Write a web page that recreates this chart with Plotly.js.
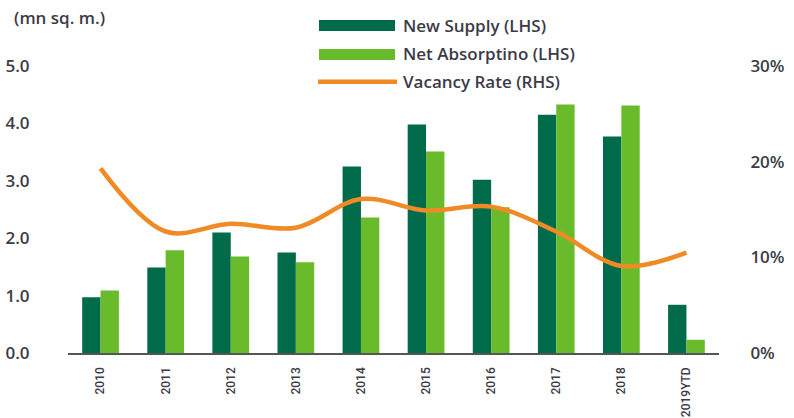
<!DOCTYPE html>
<html>
<head>
<meta charset="utf-8">
<script src="https://cdn.plot.ly/plotly-3.0.1.min.js"></script>
<style>html,body{margin:0;padding:0;background:#fff;}#chart{width:794px;height:418px;}</style>
</head>
<body>
<div id="chart"></div>
<script>
var years = ["2010","2011","2012","2013","2014","2015","2016","2017","2018","2019YTD"];
var newSupply = [0.97, 1.49, 2.10, 1.75, 3.25, 3.98, 3.02, 4.15, 3.77, 0.84];
var netAbsorption = [1.09, 1.79, 1.68, 1.58, 2.36, 3.51, 2.54, 4.33, 4.31, 0.23];
var vacancyRate = [19.3, 12.7, 13.5, 13.1, 16.1, 14.9, 15.3, 12.7, 9.1, 10.5];
var leftTicks = [0, 1, 2, 3, 4, 5];
var leftTickText = ["0.0", "1.0", "2.0", "3.0", "4.0", "5.0"];
var rightTicks = [0, 10, 20, 30];
var rightTickText = ["0%", "10%", "20%", "30%"];
var legendNames = ["New Supply (LHS)", "Net Absorptino (LHS)", "Vacancy Rate (RHS)"];

var cDark = "#006B4A", cLight = "#6ABB2B", cOrange = "#F08A24";
var fontFam = "'Open Sans', 'DejaVu Sans', sans-serif";
var txtCol = "#3b3b47";

var traces = [
  {type: "bar", x: years, y: newSupply, name: legendNames[0], marker: {color: cDark}, yaxis: "y"},
  {type: "bar", x: years, y: netAbsorption, name: legendNames[1], marker: {color: cLight}, yaxis: "y"},
  {type: "scatter", mode: "lines", x: years, y: vacancyRate, name: legendNames[2], yaxis: "y2",
   line: {color: cOrange, width: 4.5, shape: "spline", smoothing: 1}}
];

var legY = [25.5, 53.5, 81.7];
var shapes = [
  {type: "rect", xref: "paper", yref: "paper", x0: (319 - 68) / 651, x1: (395 - 68) / 651,
   y0: 1 - (31 - 66) / 287, y1: 1 - (20 - 66) / 287, fillcolor: cDark, line: {width: 0}},
  {type: "rect", xref: "paper", yref: "paper", x0: (319 - 68) / 651, x1: (395 - 68) / 651,
   y0: 1 - (60 - 66) / 287, y1: 1 - (49 - 66) / 287, fillcolor: cLight, line: {width: 0}},
  {type: "line", xref: "paper", yref: "paper", x0: (318 - 68) / 651, x1: (397 - 68) / 651,
   y0: 1 - (81.7 - 66) / 287, y1: 1 - (81.7 - 66) / 287, line: {color: cOrange, width: 4.5}}
];
var annotations = [
  {xref: "paper", yref: "paper", x: (12 - 68) / 651, y: 1 - (17 - 66) / 287, xanchor: "left", yanchor: "middle",
   text: "(mn sq. m.)", showarrow: false, font: {family: fontFam, size: 17, weight: 600, color: txtCol}}
];
for (var i = 0; i < legendNames.length; i++) {
  annotations.push({xref: "paper", yref: "paper", x: (401 - 68) / 651, y: 1 - (legY[i] - 66) / 287,
    xanchor: "left", yanchor: "middle", text: legendNames[i], showarrow: false,
    font: {family: fontFam, size: 17, weight: 600, color: txtCol}});
}

var layout = {
  width: 794, height: 418,
  margin: {l: 68, r: 75, t: 66, b: 65, pad: 0},
  paper_bgcolor: "#fff", plot_bgcolor: "#fff",
  showlegend: false,
  barmode: "group", bargap: 0.436, bargroupgap: 0,
  xaxis: {type: "category", showgrid: false, zeroline: false, showline: true, linecolor: "#555", linewidth: 1.5,
    tickangle: -90, ticks: "outside", ticklen: 8, tickcolor: "rgba(0,0,0,0)", automargin: false,
    tickfont: {family: "Roboto, 'Liberation Sans', sans-serif", size: 12, weight: 500, color: txtCol}},
  yaxis: {range: [0, 5], tickvals: leftTicks, ticktext: leftTickText, showgrid: false, zeroline: false,
    showline: false, ticks: "outside", ticklen: 34, tickcolor: "rgba(0,0,0,0)", automargin: false,
    tickfont: {family: fontFam, size: 17, weight: 600, color: txtCol}},
  yaxis2: {range: [0, 30], overlaying: "y", side: "right", tickvals: rightTicks, ticktext: rightTickText,
    showgrid: false, zeroline: false, showline: false, ticks: "outside", ticklen: 27,
    tickcolor: "rgba(0,0,0,0)", automargin: false,
    tickfont: {family: fontFam, size: 17, weight: 600, color: txtCol}},
  shapes: shapes,
  annotations: annotations
};

Plotly.newPlot("chart", traces, layout, {displayModeBar: false, staticPlot: true});
</script>
</body>
</html>
